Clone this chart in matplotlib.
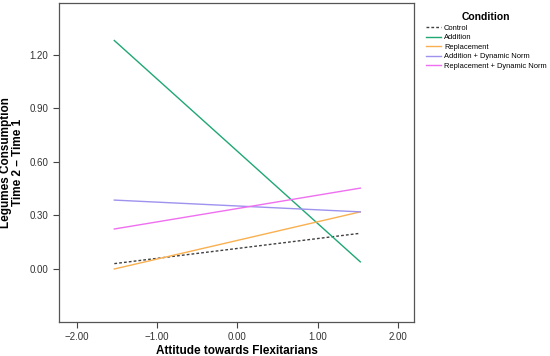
import matplotlib
matplotlib.use("Agg")
import matplotlib.pyplot as plt

conditions = ["Control", "Addition", "Replacement", "Addition + Dynamic Norm", "Replacement + Dynamic Norm"]
x_vals = [-1.53, 1.53]
y_start = [0.03, 1.28, 0.00, 0.386, 0.224]
y_end = [0.20, 0.04, 0.32, 0.32, 0.453]
colors = ["#404040", "#1fa774", "#f9b050", "#9d92ee", "#ef6ff0"]
styles = [(0, (2, 1.5)), "-", "-", "-", "-"]
xticks = [-2.0, -1.0, 0.0, 1.0, 2.0]
yticks = [0.0, 0.3, 0.6, 0.9, 1.2]

plt.rcParams['font.family'] = ['Liberation Sans', 'DejaVu Sans']
fig = plt.figure(figsize=(5.5, 3.56), dpi=100)
ax = fig.add_axes([0.107, 0.0955, 0.646, 0.896])
for name, a, b, c, ls in zip(conditions, y_start, y_end, colors, styles):
    ax.plot(x_vals, [a, b], color=c, linestyle=ls, linewidth=1.0, label=name)

ax.set_xlim(-2.22, 2.2)
ax.set_ylim(-0.297, 1.49)
ax.set_xticks(xticks)
ax.set_xticklabels([f"{v:.2f}".replace("-", "\u2212") for v in xticks], fontsize=7, color="#333333")
ax.set_yticks(yticks)
ax.set_yticklabels([f"{v:.2f}" for v in yticks], fontsize=7, color="#333333")
ax.tick_params(direction="out", length=4, width=0.8, color="#444444")
for s in ax.spines.values():
    s.set_color("#555555")
    s.set_linewidth(0.9)
ax.set_xlabel("Attitude towards Flexitarians", fontsize=8.5, fontweight="bold", labelpad=2)
ax.set_ylabel("Legumes Consumption\nTime 2 \u2013 Time 1", fontsize=8.5, fontweight="bold", linespacing=0.95)
ax.yaxis.set_label_coords(-0.098, 0.5)

leg = fig.legend(loc="upper left", bbox_to_anchor=(0.765, 0.98), frameon=False,
                 fontsize=5.4, title="Condition", title_fontproperties={"weight": "bold", "size": 7.5},
                 handlelength=2.0, handletextpad=0.4, labelspacing=0.3, borderpad=0.2)
fig.savefig("out.png", dpi=100)
